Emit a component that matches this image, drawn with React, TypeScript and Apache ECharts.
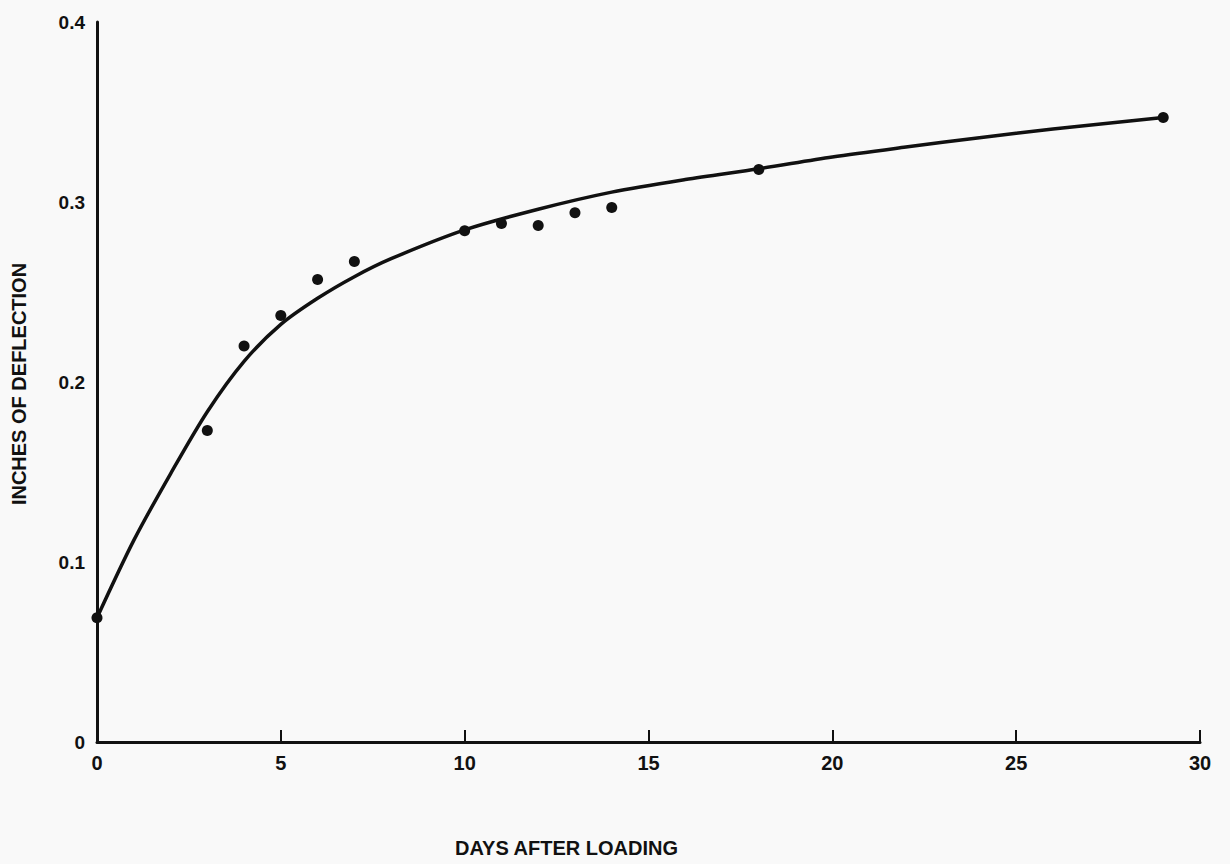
import React, { useEffect, useRef } from "react";
import * as echarts from "echarts";

const obsDays = [0, 3, 4, 5, 6, 7, 10, 11, 12, 13, 14, 18, 29];
const obsDeflection = [0.069, 0.173, 0.22, 0.237, 0.257, 0.267, 0.284, 0.288, 0.287, 0.294, 0.297, 0.318, 0.347];

const curveDays = [0, 1, 2, 3, 4, 5, 6, 7, 8, 10, 12, 14, 16, 18, 20, 22, 24, 26, 29];
const curveDeflection = [0.069, 0.112, 0.149, 0.1835, 0.2115, 0.232, 0.2465, 0.2585, 0.2685, 0.2845, 0.296, 0.3055, 0.3125, 0.3185, 0.325, 0.3305, 0.3357, 0.3405, 0.347];

const xTicks = [0, 5, 10, 15, 20, 25, 30];
const yTicks = [0, 0.1, 0.2, 0.3, 0.4];

const xTitle = "DAYS AFTER LOADING";
const yTitle = "INCHES OF DEFLECTION";

const FONT = "'Liberation Sans', Arial, sans-serif";
const INK = "#111111";

export default function App() {
  const ref = useRef<HTMLDivElement>(null);
  useEffect(() => {
    if (!ref.current) return;
    const chart = echarts.init(ref.current, null, { renderer: "svg" });
    chart.setOption({
      animation: false,
      backgroundColor: "#f9f9f9",
      grid: { left: 97, right: 30, top: 22, bottom: 122 },
      xAxis: {
        type: "value",
        min: xTicks[0],
        max: xTicks[xTicks.length - 1],
        interval: 5,
        axisLine: { show: true, lineStyle: { color: INK, width: 3 } },
        axisTick: { show: true, inside: true, length: 12, lineStyle: { color: INK, width: 2 } },
        splitLine: { show: false },
        axisLabel: {
          margin: 11,
          color: INK,
          fontFamily: FONT,
          fontWeight: "bold",
          fontSize: 20,
          formatter: (v: number) => (xTicks.includes(v) ? String(v) : ""),
        },
      },
      yAxis: {
        type: "value",
        min: yTicks[0],
        max: yTicks[yTicks.length - 1],
        interval: 0.1,
        axisLine: { show: true, lineStyle: { color: INK, width: 3 } },
        axisTick: { show: false },
        splitLine: { show: false },
        axisLabel: {
          margin: 12,
          color: INK,
          fontFamily: FONT,
          fontWeight: "bold",
          fontSize: 19,
          formatter: (v: number) => (Math.abs(v) < 1e-9 ? "0" : v.toFixed(1)),
        },
      },
      series: [
        {
          type: "line",
          data: curveDays.map((d, i) => [d, curveDeflection[i]]),
          smooth: 0.3,
          showSymbol: false,
          lineStyle: { color: INK, width: 3.5 },
          z: 2,
        },
        {
          type: "scatter",
          data: obsDays.map((d, i) => [d, obsDeflection[i]]),
          symbol: "circle",
          symbolSize: 11,
          itemStyle: { color: INK, opacity: 1 },
          z: 3,
        },
      ],
      graphic: [
        {
          type: "text",
          x: 455,
          y: 838,
          style: {
            text: xTitle,
            fill: INK,
            font: `bold 20px ${FONT}`,
            align: "left",
            verticalAlign: "top",
          },
        },
        {
          type: "text",
          x: 19,
          y: 384,
          rotation: Math.PI / 2,
          style: {
            text: yTitle,
            fill: INK,
            font: `bold 20px ${FONT}`,
            align: "center",
            verticalAlign: "middle",
          },
        },
      ],
    });
    return () => chart.dispose();
  }, []);
  return (
    <div
      ref={ref}
      style={{ position: "fixed", left: 0, top: 0, width: 1230, height: 864 }}
    />
  );
}
